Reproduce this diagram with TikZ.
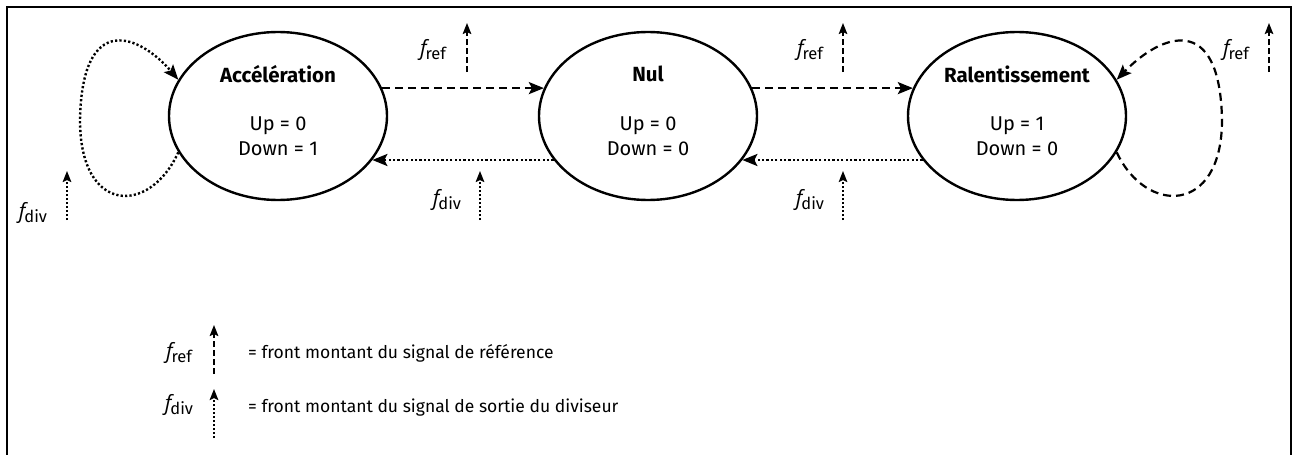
\documentclass[tikz,border=0pt]{standalone}
\usepackage{fontspec}
\setmainfont{Fira Sans}
\newfontfamily\ffont{Open Sans}
\usetikzlibrary{shapes.geometric,arrows.meta}
\newcommand\fsig[1]{{\ffont\fontsize{21}{21}\selectfont\itshape f}\kern-1pt\raisebox{-4pt}{\fontsize{16.5}{16.5}\selectfont #1}}
\begin{document}
\begin{tikzpicture}[x=1pt,y=-1pt,
  state/.style={ellipse, draw, line width=2.4pt, minimum width=218pt, minimum height=168pt, inner sep=0pt},
  title/.style={font=\fontsize{20.5}{22}\selectfont\bfseries, inner sep=0pt},
  vals/.style={font=\fontsize{20}{25}\selectfont, align=center, inner sep=0pt},
  sig/.style={inner sep=0pt, anchor=base},
  legtext/.style={font=\fontsize{17.5}{19}\selectfont, anchor=west, inner sep=0pt},
  refedge/.style={line width=2.2pt, dash pattern=on 8pt off 5pt, -{Stealth[length=15pt,width=12pt,inset=3pt]}},
  divedge/.style={line width=2.4pt, dash pattern=on 2.2pt off 2.2pt, -{Stealth[length=15pt,width=12pt,inset=3pt]}},
  refmark/.style={line width=2pt, dash pattern=on 6pt off 3pt, -{Stealth[length=11pt,width=8.5pt,inset=2pt]}},
  divmark/.style={line width=2pt, dash pattern=on 2pt off 2pt, -{Stealth[length=11pt,width=8.5pt,inset=2pt]}}
]
\useasboundingbox (0,0) rectangle (1294,455);
\draw[line width=2.5pt] (7,460) -- (7,7) -- (1291,7) -- (1291,460);

% states
\node[state] (acc) at (278,116) {};
\node[state] (nul) at (648,116) {};
\node[state] (ral) at (1017,116) {};
\node[title] (acct) at (278,74) {Accélération};
\node[title] (nult) at (648,74) {Nul};
\node[title] (ralt) at (1017,74) {Ralentissement};
\node[vals] (accv) at (278,136) {Up = 0\\Down = 1};
\node[vals] (nulv) at (648,136) {Up = 0\\Down = 0};
\node[vals] (ralv) at (1017,136) {Up = 1\\Down = 0};

% transitions
\draw[refedge] (acc.15) -- (nul.165);
\draw[refedge] (nul.15) -- (ral.165);
\draw[divedge] (nul.205) -- (acc.335);
\draw[divedge] (ral.205) -- (nul.335);
\draw[divedge] (acc.200) .. controls (150,215) and (80,215) .. (80,120)
                         .. controls (82,10) and (140,35) .. (acc.160);
\draw[refedge] (ral.340) .. controls (1146,215) and (1222,215) .. (1222,120)
                         .. controls (1220,10) and (1160,35) .. (ral.20);

% signal labels
\node[sig] (l1) at (433,55) {\fsig{ref}};
\coordinate (l1a) at (467,72); \coordinate (l1b) at (467,23);
\draw[refmark] (l1a) -- (l1b);
\node[sig] (l2) at (810,55) {\fsig{ref}};
\coordinate (l2a) at (843,72); \coordinate (l2b) at (843,23);
\draw[refmark] (l2a) -- (l2b);
\node[sig] (l3) at (1236,55) {\fsig{ref}};
\coordinate (l3a) at (1269,72); \coordinate (l3b) at (1269,23);
\draw[refmark] (l3a) -- (l3b);
\node[sig] (l4) at (447,205) {\fsig{div}};
\coordinate (l4a) at (480,220); \coordinate (l4b) at (480,171);
\draw[divmark] (l4a) -- (l4b);
\node[sig] (l5) at (810,205) {\fsig{div}};
\coordinate (l5a) at (843,220); \coordinate (l5b) at (843,171);
\draw[divmark] (l5a) -- (l5b);
\node[sig] (l6) at (33,218) {\fsig{div}};
\coordinate (l6a) at (67,220); \coordinate (l6b) at (67,171);
\draw[divmark] (l6a) -- (l6b);

% legend
\node[sig] (g1) at (179,358) {\fsig{ref}};
\coordinate (g1a) at (214,374); \coordinate (g1b) at (214,325);
\draw[refmark] (g1a) -- (g1b);
\node[legtext] (g1t) at (248,353) {= front montant du signal de référence};
\node[sig] (g2) at (179,410) {\fsig{div}};
\coordinate (g2a) at (214,438); \coordinate (g2b) at (214,389);
\draw[divmark] (g2a) -- (g2b);
\node[legtext] (g2t) at (248,408) {= front montant du signal de sortie du diviseur};
\end{tikzpicture}
\end{document}
